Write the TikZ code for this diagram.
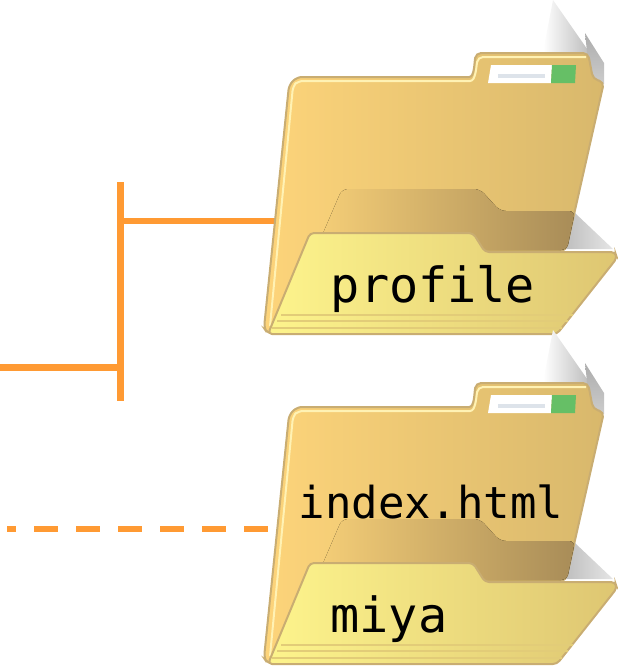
\documentclass[tikz,border=0pt]{standalone}
\usepackage{fontspec}
\newfontfamily\monofont{DejaVu Sans Mono}
\definecolor{wire}{HTML}{FF9A33}
\definecolor{rim}{HTML}{C9AD72}
\definecolor{backleft}{HTML}{FDD47A}
\definecolor{backmid}{HTML}{FBD277}
\definecolor{backright}{HTML}{D8B86C}
\definecolor{frontleft}{HTML}{FDF48C}
\definecolor{frontmid}{HTML}{F2E283}
\definecolor{frontright}{HTML}{DEC672}
\definecolor{shadeleft}{HTML}{F5CE77}
\definecolor{shaderight}{HTML}{A88C58}
\definecolor{glow}{HTML}{FFF2B4}
\definecolor{stripe}{HTML}{E2CC78}
\definecolor{tabgreen}{HTML}{66BF66}
\definecolor{tabbar}{HTML}{DDE3EA}
\tikzset{
  wireline/.style={draw=wire,line width=#1},
  foldername/.style={font=\monofont\fontsize{#1}{#1}\selectfont,anchor=base,inner sep=0pt},
  folder/.pic={
    % sheets behind the folder
    \path[left color=white,right color=gray!55] (543,52) -- (553,0) -- (592,56) -- cycle;
    \path[top color=gray!65,bottom color=gray!40] (585,33) -- (604,63) -- (604,84) -- (590,80) -- cycle;
    \path[left color=gray!50,right color=gray!20] (575,213) -- (613,249) -- (566,249) -- cycle;
    % back panel
    \draw[rim,line width=2pt,rounded corners=5pt,left color=backleft,middle color=backmid,right color=backright]
      (297,77) -- (464,77) to[out=0,in=-100] (476,53) -- (588,53) -- (593,79) -- (604,82)
      -- (566,250) -- (268,334) -- (264,328) -- (289,85) -- cycle;
    \draw[glow,line width=2pt,rounded corners=5pt] (270,326) -- (293,86) -- (298,81) -- (465,81)
      to[out=0,in=-100] (478,57) -- (586,57);
    % tab label
    \fill[white] (491,65) -- (552,65) -- (551,83) -- (488,83) -- cycle;
    \fill[tabgreen] (552,65) -- (576,65) -- (575,83) -- (551,83) -- cycle;
    \fill[tabbar] (498,74) -- (545,74) -- (545,78) -- (498,78) -- cycle;
    % inner shadow
    \fill[left color=shadeleft,right color=shaderight,rounded corners=6pt]
      (318,245) -- (342,189) -- (480,189) -- (500,211) -- (575,211) -- (567,250) -- (318,250) -- cycle;
    % front flap
    \draw[rim,line width=2pt,rounded corners=4pt,left color=frontleft,middle color=frontmid,right color=frontright]
      (310,233) -- (473,233) -- (485,252) -- (615,252) -- (617,258) -- (557,334) -- (268,334) -- cycle;
    \draw[stripe,line width=1.5pt] (281,315) -- (573,315) (277,321) -- (568,321) (272,328) -- (562,328);
  }
}
\begin{document}
\begin{tikzpicture}[x=1pt,y=-1pt]
  \useasboundingbox (0,0) rectangle (618,667);
  \coordinate (stemtop) at (120.5,182);
  \coordinate (stembot) at (120.5,401);
  \coordinate (stemup) at (120.5,221);
  \coordinate (stemdown) at (120.5,367);
  \coordinate (parent) at (0,367);
  \coordinate (profileend) at (275,221);
  \coordinate (dashstart) at (7,528.5);
  \coordinate (dashend) at (268,528.5);
  \draw[wireline=7pt] (stemtop) to (stembot);
  \draw[wireline=6pt] (stemup) to (profileend);
  \draw[wireline=7pt] (parent) to (stemdown);
  \draw[wireline=6pt,dash pattern=on 24pt off 18pt,dash phase=15pt] (dashstart) to (dashend);
  \pic at (0,0) {folder};
  \pic at (0,330) {folder};
  \node[foldername=48.5] (profile) at (433,302) {profile};
  \node[foldername=44] (index) at (431,518) {index.html};
  \node[foldername=48.5] (miya) at (389,632) {miya};
\end{tikzpicture}
\end{document}
